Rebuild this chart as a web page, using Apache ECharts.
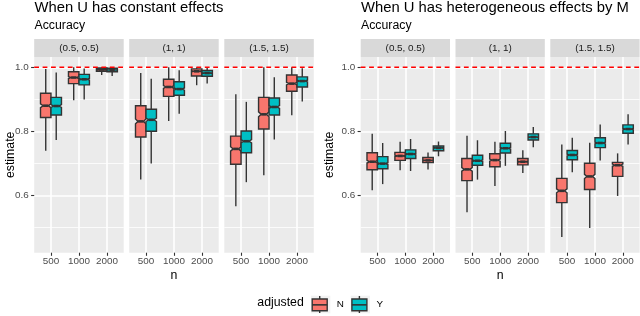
<!DOCTYPE html>
<html><head><meta charset="utf-8">
<script src="https://cdn.jsdelivr.net/npm/echarts@6/dist/echarts.min.js"></script>
<style>html,body{margin:0;padding:0;background:#fff}#c{width:640px;height:316px}</style>
</head><body><div id="c"></div>
<script>
// ---------------- data ----------------
const categories = ['500', '1000', '2000'];
const facetLabels = ['(0.5, 0.5)', '(1, 1)', '(1.5, 1.5)'];
const groups = ['N', 'Y'];
const groupColors = ['#F8766D', '#00BFC4'];
const yTickValues = [0.6, 0.8, 1.0];
const yMinorValues = [0.5, 0.7, 0.9];
const refLine = 1.0;
const nReps = 400; // replications used for notch width
const panelTitles = ['When U has constant effects', 'When U has heterogeneous effects by M'];
const panelSubtitle = 'Accuracy';
const yName = 'estimate';
const xName = 'n';
const legendTitle = 'adjusted';

// [lower whisker, Q1, median, Q3, upper whisker] per facet, per n
const constN = [
  [[0.739, 0.843, 0.880, 0.919, 0.995], [0.897, 0.949, 0.968, 0.986, 1.000], [0.976, 0.9875, 0.993, 0.998, 1.000]],
  [[0.649, 0.782, 0.831, 0.880, 0.982], [0.832, 0.909, 0.9385, 0.9625, 1.000], [0.944, 0.973, 0.9875, 0.995, 1.000]],
  [[0.566, 0.697, 0.745, 0.785, 0.916], [0.6625, 0.807, 0.853, 0.906, 1.000], [0.850, 0.925, 0.949, 0.976, 1.000]]
];
const constY = [
  [[0.773, 0.851, 0.879, 0.906, 0.984], [0.899, 0.945, 0.9625, 0.978, 0.996], [0.973, 0.986, 0.992, 0.997, 1.000]],
  [[0.699, 0.800, 0.836, 0.869, 0.964], [0.855, 0.9125, 0.932, 0.955, 0.991], [0.949, 0.972, 0.982, 0.990, 1.000]],
  [[0.641, 0.733, 0.769, 0.801, 0.892], [0.774, 0.851, 0.876, 0.904, 0.969], [0.893, 0.9385, 0.957, 0.970, 0.997]]
];
const heteroN = [
  [[0.616, 0.680, 0.705, 0.733, 0.792], [0.678, 0.709, 0.723, 0.734, 0.767], [0.681, 0.702, 0.709, 0.718, 0.734]],
  [[0.547, 0.646, 0.681, 0.715, 0.786], [0.629, 0.689, 0.710, 0.730, 0.767], [0.670, 0.695, 0.705, 0.715, 0.741]],
  [[0.470, 0.577, 0.614, 0.653, 0.759], [0.498, 0.618, 0.659, 0.700, 0.764], [0.598, 0.659, 0.694, 0.703, 0.731]]
];
const heteroY = [
  [[0.635, 0.683, 0.699, 0.721, 0.7635], [0.676, 0.715, 0.729, 0.742, 0.776], [0.722, 0.739, 0.748, 0.754, 0.768]],
  [[0.649, 0.694, 0.708, 0.725, 0.772], [0.692, 0.732, 0.747, 0.7625, 0.801], [0.750, 0.773, 0.782, 0.792, 0.8135]],
  [[0.672, 0.711, 0.726, 0.740, 0.780], [0.709, 0.749, 0.7635, 0.780, 0.821], [0.759, 0.794, 0.807, 0.820, 0.853]]
];

// ---------------- layout ----------------
const FONT = 'Liberation Sans';
const X_MIN = 0.4, X_MAX = 3.6;
const Y_MIN = 0.4206, Y_MAX = 1.0322;
const PLOT_TOP = 57, PLOT_H = 195.7, STRIP_H = 18;
const panels = [
  { lefts: [34.2, 129.2, 224.3], width: 89.5, N: constN, Y: constY, title: panelTitles[0], yNameX: 10.5 },
  { lefts: [360.7, 455.5, 550.3], width: 89.3, N: heteroN, Y: heteroY, title: panelTitles[1], yNameX: 330 }
];
const DODGE = 0.1875, HALFW = 0.1875;

function renderBox(fill) {
  return function (params, api) {
    const x = api.value(0);
    const lo = api.value(1), q1 = api.value(2), md = api.value(3), q3 = api.value(4), hi = api.value(5);
    const L = x - HALFW, R = x + HALFW, ind = (R - L) * 0.25;
    const nt = 1.58 * (q3 - q1) / Math.sqrt(nReps);
    const nu = md + nt, nl = md - nt;
    const P = (a, b) => api.coord([a, b]);
    const pts = [P(L, q3), P(L, nu), P(L + ind, md), P(L, nl), P(L, q1),
                 P(R, q1), P(R, nl), P(R - ind, md), P(R, nu), P(R, q3)];
    const c = P(x, q3), ch = P(x, hi), cl = P(x, q1), clo = P(x, lo);
    const m1 = P(L + ind, md), m2 = P(R - ind, md);
    const ls = { stroke: '#333333', lineWidth: 1.4 };
    return {
      type: 'group',
      children: [
        { type: 'line', shape: { x1: c[0], y1: c[1], x2: ch[0], y2: ch[1] }, style: ls },
        { type: 'line', shape: { x1: cl[0], y1: cl[1], x2: clo[0], y2: clo[1] }, style: ls },
        { type: 'polygon', shape: { points: pts }, style: { fill: fill, stroke: '#333333', lineWidth: 1.4 } },
        { type: 'line', shape: { x1: m1[0], y1: m1[1], x2: m2[0], y2: m2[1] }, style: { stroke: '#333333', lineWidth: 2.6 } }
      ]
    };
  };
}

const grid = [], xAxis = [], yAxis = [], series = [], graphic = [];

function text(x, y, str, size, color, align, valign, rot) {
  const el = {
    type: 'text', x: x, y: y, silent: true,
    style: { text: str, fill: color, fontSize: size, fontFamily: FONT,
             align: align, verticalAlign: valign, textAlign: align, textVerticalAlign: valign }
  };
  if (rot) el.rotation = rot;
  graphic.push(el);
}

let gi = 0;
panels.forEach((p, pi) => {
  text(p.lefts[0] + 0.3, 7.6, p.title, 14.8, '#000000', 'left', 'middle');
  text(p.lefts[0] + 0.3, 25.7, panelSubtitle, 12.3, '#000000', 'left', 'middle');
  const pl = p.lefts[0], pr = p.lefts[2] + p.width;
  text((pl + pr) / 2, 275.5, xName, 12.3, '#000000', 'center', 'middle');
  text(p.yNameX, PLOT_TOP + PLOT_H / 2, yName, 12.3, '#000000', 'center', 'middle', Math.PI / 2);

  p.lefts.forEach((left, fi) => {
    grid.push({ left: left, top: PLOT_TOP, width: p.width, height: PLOT_H, show: true,
                backgroundColor: '#EBEBEB', borderWidth: 0, containLabel: false, outerBoundsMode: 'none' });
    graphic.push({ type: 'rect', silent: true, shape: { x: left, y: PLOT_TOP - STRIP_H, width: p.width, height: STRIP_H },
                   style: { fill: '#D9D9D9' } });
    text(left + p.width / 2, 48, facetLabels[fi], 9.9, '#1A1A1A', 'center', 'middle');

    xAxis.push({
      type: 'value', gridIndex: gi, min: X_MIN, max: X_MAX,
      axisLine: { show: false },
      axisTick: { show: true, length: 3.1, customValues: [1, 2, 3], lineStyle: { color: '#333333', width: 1.1 } },
      axisLabel: { show: true, customValues: [1, 2, 3], margin: 3.3, fontSize: 9.9, fontFamily: FONT, color: '#4D4D4D',
                   formatter: v => categories[Math.round(v) - 1] },
      splitLine: { show: true, lineStyle: { color: '#FFFFFF', width: 1.6 } }
    });
    const first = fi === 0;
    yAxis.push({
      type: 'value', gridIndex: gi, min: Y_MIN, max: Y_MAX,
      axisLine: { show: false },
      axisTick: { show: first, length: 3.1, customValues: yTickValues, lineStyle: { color: '#333333', width: 1.1 } },
      axisLabel: { show: first, customValues: yTickValues, margin: 5.5, fontSize: 9.9, fontFamily: FONT, color: '#4D4D4D',
                   formatter: v => v.toFixed(1) },
      splitLine: { show: true, lineStyle: { color: '#FFFFFF', width: 1.6 } }
    });
    yAxis.push({
      type: 'value', gridIndex: gi, min: Y_MIN, max: Y_MAX, position: 'left',
      axisLine: { show: false },
      axisTick: { show: false, customValues: yMinorValues },
      axisLabel: { show: false, customValues: yMinorValues },
      splitLine: { show: true, lineStyle: { color: '#FFFFFF', width: 0.8 } }
    });

    [p.N, p.Y].forEach((arr, g) => {
      series.push({
        type: 'custom', name: groups[g], xAxisIndex: gi, yAxisIndex: gi * 2,
        renderItem: renderBox(groupColors[g]),
        itemStyle: { color: groupColors[g] },
        encode: { x: 0, y: [1, 2, 3, 4, 5] },
        data: arr[fi].map((st, ci) => [ci + 1 + (g === 0 ? -DODGE : DODGE)].concat(st)),
        z: 2
      });
    });
    // dashed reference line at accuracy = 1
    series.push({
      type: 'line', name: 'ref', xAxisIndex: gi, yAxisIndex: gi * 2, silent: true,
      data: [[X_MIN, refLine], [X_MAX, refLine]], symbol: 'none', z: 5,
      lineStyle: { color: '#FF0000', type: [4.8, 3.6], width: 1.6, opacity: 1 },
      itemStyle: { color: '#FF0000' }
    });
    gi++;
  });
});

// legend (ggplot-style boxplot keys)
text(257.3, 303, legendTitle, 12.3, '#000000', 'left', 'middle');
const keyX = [311, 350.7], keyY = 295.7, keyW = 19.3, keyH = 17.6;
groups.forEach((g, i) => {
  const kx = keyX[i];
  graphic.push({ type: 'rect', silent: true, shape: { x: kx, y: keyY, width: keyW, height: keyH }, style: { fill: '#F2F2F2' } });
  const cx = kx + 1.2 + 7.5;
  graphic.push({ type: 'line', silent: true, shape: { x1: cx, y1: keyY + 0.3, x2: cx, y2: keyY + 3.3 }, style: { stroke: '#333333', lineWidth: 1.4 } });
  graphic.push({ type: 'line', silent: true, shape: { x1: cx, y1: keyY + 15, x2: cx, y2: keyY + 17.3 }, style: { stroke: '#333333', lineWidth: 1.4 } });
  graphic.push({ type: 'rect', silent: true, shape: { x: kx + 1.2, y: keyY + 3.3, width: 15, height: 11.7 },
                 style: { fill: groupColors[i], stroke: '#333333', lineWidth: 1.4 } });
  graphic.push({ type: 'line', silent: true, shape: { x1: kx + 1.2, y1: keyY + 9.15, x2: kx + 16.2, y2: keyY + 9.15 }, style: { stroke: '#333333', lineWidth: 1.6 } });
  text(kx + 25.7, 304.5, g, 9.9, '#000000', 'left', 'middle');
});

const chart = echarts.init(document.getElementById('c'), null, { renderer: 'canvas' });
chart.setOption({
  animation: false,
  backgroundColor: '#FFFFFF',
  grid: grid, xAxis: xAxis, yAxis: yAxis, series: series, graphic: graphic
});
</script></body></html>
